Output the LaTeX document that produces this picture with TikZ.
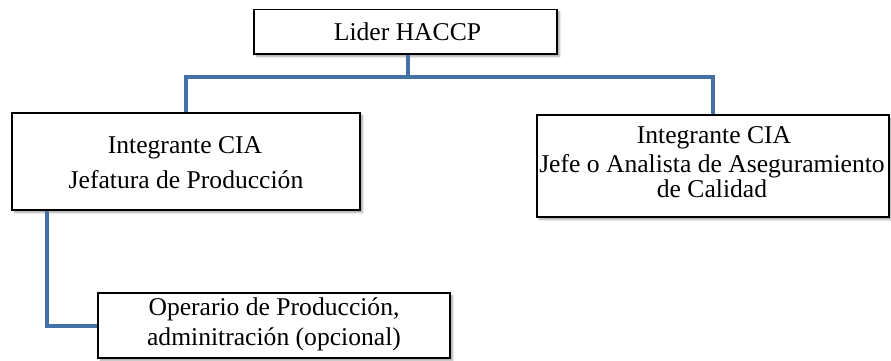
\documentclass[tikz,border=0pt]{standalone}
\usepackage{fontspec}
\setmainfont{Liberation Serif}
\usetikzlibrary{shadows.blur}
\definecolor{linkblue}{HTML}{4470A8}
\tikzset{
  orgbox/.style={draw=black, line width=1.1pt, fill=white, inner sep=0pt,
    blur shadow={shadow xshift=2.5pt, shadow yshift=-2.5pt, shadow opacity=35, shadow blur steps=6}},
  label/.style={anchor=base, inner sep=0pt, font=\fontsize{25.6}{30}\selectfont},
  conn/.style={draw=linkblue, line width=4pt}
}
\begin{document}
\begin{tikzpicture}[x=1pt, y=1pt]
  \useasboundingbox (0,0) rectangle (891,360);

  % boxes
  \node[orgbox, minimum width=303pt, minimum height=44.5pt] (lider) at (405.5,328.25) {};
  \node[orgbox, minimum width=348pt, minimum height=97pt] (left) at (186,198.5) {};
  \node[orgbox, minimum width=352pt, minimum height=102pt] (right) at (713,194) {};
  \node[orgbox, minimum width=352pt, minimum height=65pt] (bottom) at (274,34.5) {};

  % connectors
  \coordinate (junction) at (408,283.5);
  \draw[conn] (lider.south -| junction) -- (junction);
  \draw[conn] (left.north) |- (junction) -| (right.north);
  \draw[conn] ([xshift=-139pt]left.south) |- (bottom.west);

  % texts
  \node[label] (tl) at (407.5,320) {Lider HACCP};
  \node[label] (tleft1) at (185,207) {Integrante CIA};
  \node[label] (tleft2) at (186,172) {Jefatura de Producción};
  \node[label] (tright1) at (714,217) {Integrante CIA};
  \node[label] (tright2) at (712,188) {Jefe o Analista de Aseguramiento};
  \node[label] (tright3) at (712,163) {de Calidad};
  \node[label] (tbot1) at (274,45) {Operario de Producción,};
  \node[label] (tbot2) at (274,15) {adminitración (opcional)};
\end{tikzpicture}
\end{document}
